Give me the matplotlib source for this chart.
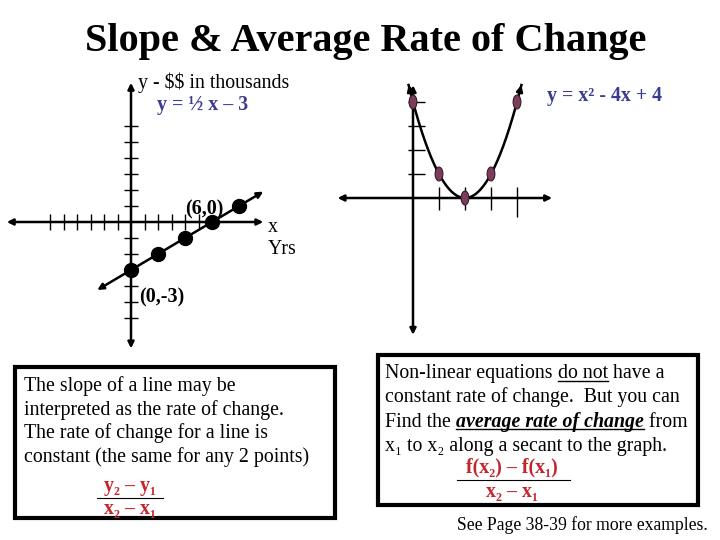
import numpy as np
import matplotlib.pyplot as plt
from matplotlib.patches import Rectangle, Ellipse

plt.rcParams['font.family'] = ['Liberation Serif', 'DejaVu Serif']

title = "Slope & Average Rate of Change"

# left graph, y = 1/2 x - 3
line_x = [0, 2, 4, 6, 8]
line_y = [-3, -2, -1, 0, 1]
slope, intercept = 0.5, -3
line_ticks_x = [-6, -5, -4, -3, -2, -1, 1, 2, 3, 4, 5]
line_ticks_y = [-6, -5, -4, -3, -2, -1, 1, 2, 3, 4, 5, 6]

# right graph, y = x^2 - 4x + 4
par_x = [0, 1, 2, 3, 4]
par_y = [4, 1, 0, 1, 4]
par_coef = [1, -4, 4]
par_ticks_x = [1, 2, 3, 4]
par_ticks_y = [1, 2, 3, 4]

left_text = ["The slope of a line may be",
             "interpreted as the rate of change.",
             "The rate of change for a line is",
             "constant (the same for any 2 points)"]

navy = '#3b3b8f'
red = '#c4242c'
BI = dict(fontweight='bold', fontstyle='italic')
right_text = [[("Non-linear equations ", {}, False), ("do not", {}, True), (" have a", {}, False)],
              [("constant rate of change.  But you can", {}, False)],
              [("Find the ", {}, False), ("average rate of change", BI, True), (" from", {}, False)],
              [("x₁ to x₂ along a secant to the graph.", {}, False)]]

FS = 14.3

fig = plt.figure(figsize=(7.2, 5.4), dpi=100)
ov = fig.add_axes([0, 0, 1, 1])
ov.set_xlim(0, 720)
ov.set_ylim(540, 0)
ov.axis('off')
rend = fig.canvas.get_renderer()


def arrow(ax, p0, p1, style='<|-|>', lw=1.8):
    ax.annotate('', xy=p1, xytext=p0, annotation_clip=False,
                arrowprops=dict(arrowstyle=style, lw=lw, color='black',
                                mutation_scale=9, shrinkA=0, shrinkB=0))


def rich(ax, x, y, parts, size=FS):
    for txt, kw, ul in parts:
        t = ax.text(x, y, txt, fontsize=size, va='baseline', ha='left', **kw)
        w = t.get_window_extent(rend).width
        if ul:
            ax.plot([x, x + w], [y + 2.5, y + 2.5], color='black', lw=1)
        x += w


ov.text(366, 42, title, fontsize=29, fontweight='bold', ha='center', va='center')

# ---- left graph
gl = fig.add_axes([0, 180 / 540, 280 / 720, 290 / 540])
gl.set_xlim(-131 / 13.5, 149 / 13.5)
gl.set_ylim((222 - 360) / 16, (222 - 70) / 16)
gl.axis('off')
arrow(gl, (-9.2, 0), (9.8, 0))
arrow(gl, (0, -7.9), (0, 8.7))
gl.vlines(line_ticks_x, -0.5, 0.5, color='black', lw=1)
gl.hlines(line_ticks_y, -0.5, 0.5, color='black', lw=1)
arrow(gl, (-2.5, slope * -2.5 + intercept), (9.8, slope * 9.8 + intercept))
gl.plot(line_x, line_y, 'o', color='black', ms=10, zorder=5)

ov.text(138, 83, "y - $$ in thousands", fontsize=FS, va='center', parse_math=False)
ov.text(157, 105, "y = ½ x – 3", fontsize=FS, fontweight='bold', color=navy, va='center')
ov.text(185, 209, "(6,0)", fontsize=14.5, fontweight='bold', va='center')
ov.text(139, 297, "(0,-3)", fontsize=14.5, fontweight='bold', va='center')
ov.text(268, 228, "x", fontsize=FS, va='center')
ov.text(268, 250, "Yrs", fontsize=FS, va='center')

# ---- right graph
gr = fig.add_axes([320 / 720, 190 / 540, 240 / 720, 280 / 540])
gr.set_xlim((320 - 413) / 26, (560 - 413) / 26)
gr.set_ylim((198 - 350) / 24, (198 - 70) / 24)
gr.axis('off')
arrow(gr, (-2.9, 0), (5.35, 0))
arrow(gr, (0, -5.7), (0, 4.7))
for t in par_ticks_x:
    gr.vlines(t, -0.8 if t == par_ticks_x[-1] else -0.5, 0.45, color='black', lw=1)
gr.hlines(par_ticks_y, -0.2, 0.45, color='black', lw=1)
xs = np.linspace(-0.17, 4.17, 200)
ys = np.polyval(par_coef, xs)
gr.plot(xs, ys, color='black', lw=1.8)
arrow(gr, (xs[4], ys[4]), (xs[0], ys[0]), style='-|>', lw=1.8)
arrow(gr, (xs[-5], ys[-5]), (xs[-1], ys[-1]), style='-|>', lw=1.8)
for px, py in zip(par_x, par_y):
    gr.add_patch(Ellipse((px, py), 0.3, 0.58, fc='#7a3d5c', ec='#3a1a2a', lw=0.8, zorder=5))

ov.text(547, 96, "y = x² - 4x + 4", fontsize=FS, fontweight='bold', color=navy, va='center')

# ---- text boxes
ov.add_patch(Rectangle((15, 367), 320, 151, fill=False, ec='black', lw=3))
for i, s in enumerate(left_text):
    ov.text(24, 391 + 23.7 * i, s, fontsize=FS, va='baseline')
ov.text(130, 486, "y₂ – y₁", fontsize=FS, fontweight='bold', color=red, ha='center', va='center')
ov.plot([97, 163], [498, 498], color='black', lw=0.8)
ov.text(130, 509, "x₂ – x₁", fontsize=FS, fontweight='bold', color=red, ha='center', va='center')

ov.add_patch(Rectangle((378, 355), 320, 150, fill=False, ec='black', lw=3))
for i, parts in enumerate(right_text):
    rich(ov, 385, 378 + 24.3 * i, parts)
ov.text(512, 467, "f(x₂) – f(x₁)", fontsize=FS, fontweight='bold', color=red, ha='center', va='center')
ov.plot([457, 570], [480, 480], color='black', lw=0.8)
ov.text(512, 492, "x₂ – x₁", fontsize=FS, fontweight='bold', color=red, ha='center', va='center')

ov.text(708, 525, "See Page 38-39 for more examples.", fontsize=12.7, ha='right', va='center')

fig.savefig('out.png', dpi=100)
